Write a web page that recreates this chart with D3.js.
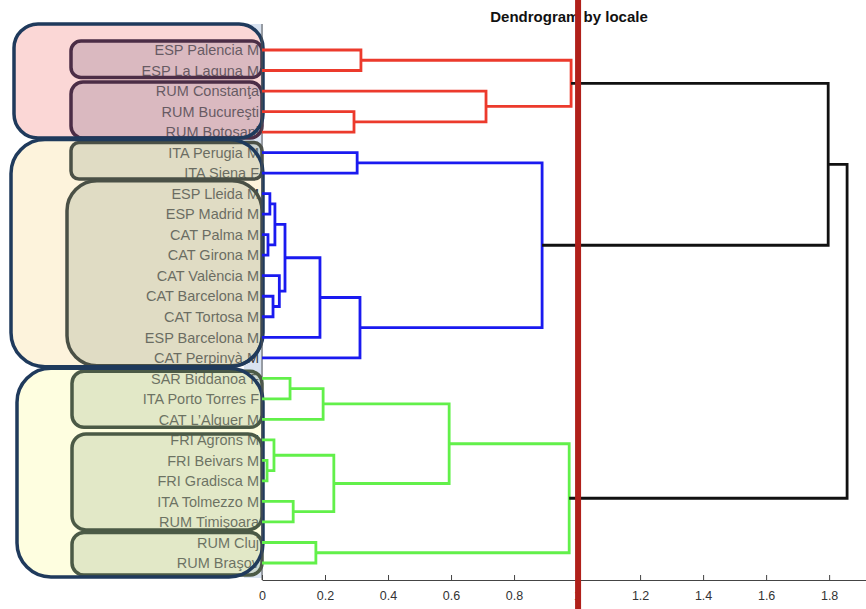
<!DOCTYPE html>
<html>
<head>
<meta charset="utf-8">
<script src="https://cdn.jsdelivr.net/npm/d3@7"></script>
<style>
  html, body { margin: 0; padding: 0; background: #fff; }
  svg { display: block; font-family: "Liberation Sans", Arial, sans-serif; }
</style>
</head>
<body>
<svg id="chart" width="866" height="609"></svg>
<script>
// Leaf labels, top to bottom in dendrogram order
const leaves = [
  "ESP Palencia M", "ESP La Laguna M", "RUM Constanţa", "RUM Bucureşti", "RUM Botoşani",
  "ITA Perugia M", "ITA Siena F", "ESP Lleida M", "ESP Madrid M", "CAT Palma M",
  "CAT Girona M", "CAT València M", "CAT Barcelona M", "CAT Tortosa M", "ESP Barcelona M",
  "CAT Perpinyà M", "SAR Biddanoa F", "ITA Porto Torres F", "CAT L’Alguer M", "FRI Agrons M",
  "FRI Beivars M", "FRI Gradisca M", "ITA Tolmezzo M", "RUM Timişoara", "RUM Cluj", "RUM Braşov"
];

// Linkage: [left node, right node, merge distance]; node ids >= leaves.length refer to earlier rows
const linkLeft  = [0, 3, 2, 26, 5, 7, 9, 31, 12, 11, 33, 36, 37, 30, 16, 40, 20, 19, 22, 43, 41, 24, 46, 29, 49];
const linkRight = [1, 4, 27, 28, 6, 8, 10, 32, 13, 34, 35, 14, 15, 38, 17, 18, 21, 42, 23, 44, 45, 25, 47, 39, 48];
const linkHeight = [0.314, 0.292, 0.711, 0.981, 0.302, 0.025, 0.019, 0.041, 0.035, 0.055, 0.073,
                    0.184, 0.311, 0.889, 0.089, 0.194, 0.016, 0.038, 0.099, 0.228, 0.594, 0.171,
                    0.975, 1.797, 1.857];

// Cut-off distance and the colours of the clusters below it
const cutoff = 1.0;
const clusterColors = ["#ec3a2c", "#1a1af0", "#62f04a"];
const aboveColor = "#111111";

// Axis ticks
const tickValues = [0, 0.2, 0.4, 0.6, 0.8, 1, 1.2, 1.4, 1.6, 1.8];

// Highlight groups of leaves: outer frames and inner frames (first leaf, last leaf)
const outerGroups = [
  { first: "ESP Palencia M", last: "RUM Botoşani", fill: "#fbd7d6" },
  { first: "ITA Perugia M", last: "CAT Perpinyà M", fill: "#fdf3dc" },
  { first: "SAR Biddanoa F", last: "RUM Braşov", fill: "#fefee0" }
];
const innerGroups = [
  { first: "ESP Palencia M", last: "ESP La Laguna M", group: 0 },
  { first: "RUM Constanţa", last: "RUM Botoşani", group: 0 },
  { first: "ITA Perugia M", last: "ITA Siena F", group: 1 },
  { first: "ESP Lleida M", last: "CAT Perpinyà M", group: 1 },
  { first: "SAR Biddanoa F", last: "CAT L’Alguer M", group: 2 },
  { first: "FRI Agrons M", last: "RUM Timişoara", group: 2 },
  { first: "RUM Cluj", last: "RUM Braşov", group: 2 }
];
const innerStyle = [
  { fill: "rgb(171,140,161)", stroke: "#4b2d46" },
  { fill: "rgb(180,185,160)", stroke: "#4a5046" },
  { fill: "rgb(184,199,162)", stroke: "#4b5a46" }
];

const svg = d3.select("#chart");
const W = 866, H = 609;
const margin = { left: 262, top: 50, bottom: 580 };

const x = d3.scaleLinear().domain([0, 1.917]).range([margin.left, W]);
const y = d3.scalePoint().domain(leaves).range([50, 563]);

// Build node positions from the linkage
const n = leaves.length;
const nodes = leaves.map(name => ({ h: 0, y: y(name) }));
linkHeight.forEach((h, i) => {
  const a = nodes[linkLeft[i]], b = nodes[linkRight[i]];
  nodes.push({ h, y: (a.y + b.y) / 2, left: linkLeft[i], right: linkRight[i] });
});

// Colour each link by the cluster it belongs to below the cut-off
const linkColor = new Array(linkHeight.length).fill(aboveColor);
const clusterRoots = [];
function findRoots(id) {
  const node = nodes[id];
  if (id < n) return;
  if (node.h < cutoff) { clusterRoots.push(id); return; }
  findRoots(node.left); findRoots(node.right);
}
findRoots(nodes.length - 1);
clusterRoots.sort((a, b) => nodes[a].y - nodes[b].y);
function paint(id, color) {
  if (id < n) return;
  linkColor[id - n] = color;
  paint(nodes[id].left, color); paint(nodes[id].right, color);
}
clusterRoots.forEach((r, i) => paint(r, clusterColors[i]));

// Light strip behind the label column
svg.append("rect")
  .attr("x", 244).attr("y", 24).attr("width", 19).attr("height", 554)
  .attr("fill", "#d9e3f1");

// Outer frame fills
const outerBox = [
  { x0: 14, pad0: 26, pad1: 6, r: 24 },
  { x0: 11, pad0: 13, pad1: 9, r: 34 },
  { x0: 17, pad0: 10, pad1: 14, r: 34 }
];
const outerG = svg.append("g");
outerGroups.forEach((g, i) => {
  const b = outerBox[i];
  const y0 = y(g.first) - b.pad0, y1 = y(g.last) + b.pad1;
  outerG.append("rect")
    .attr("x", b.x0).attr("y", y0)
    .attr("width", 263 - b.x0).attr("height", y1 - y0)
    .attr("rx", b.r).attr("ry", b.r)
    .attr("fill", g.fill);
});

// Leaf labels
svg.append("g").selectAll("text").data(leaves).join("text")
  .attr("x", 259).attr("y", d => y(d))
  .attr("dy", "0.36em")
  .attr("text-anchor", "end")
  .attr("font-size", 14.5)
  .attr("fill", "#3a3a3a")
  .text(d => d);

// Inner frames (translucent overlay + outline)
const innerBox = [
  { x0: 71, pad0: 9, pad1: 7, r: 10 },
  { x0: 71, pad0: 9, pad1: 6, r: 12 },
  { x0: 71, pad0: 10, pad1: 6, r: 8 },
  { x0: 67, pad0: 13, pad1: 8, r: 30 },
  { x0: 72, pad0: 7, pad1: 8, r: 12 },
  { x0: 72, pad0: 6, pad1: 8, r: 14 },
  { x0: 72, pad0: 10, pad1: 12, r: 12 }
];
const innerG = svg.append("g");
innerGroups.forEach((g, i) => {
  const b = innerBox[i];
  const st = innerStyle[g.group];
  const y0 = y(g.first) - b.pad0, y1 = y(g.last) + b.pad1;
  innerG.append("rect")
    .attr("x", b.x0).attr("y", y0)
    .attr("width", 262 - b.x0).attr("height", y1 - y0)
    .attr("rx", b.r).attr("ry", b.r)
    .attr("fill", st.fill).attr("fill-opacity", 0.4)
    .attr("stroke", st.stroke).attr("stroke-width", 3.5);
});

// Outer frame outlines
const outerLineG = svg.append("g");
outerGroups.forEach((g, i) => {
  const b = outerBox[i];
  const y0 = y(g.first) - b.pad0, y1 = y(g.last) + b.pad1;
  outerLineG.append("rect")
    .attr("x", b.x0).attr("y", y0)
    .attr("width", 263 - b.x0).attr("height", y1 - y0)
    .attr("rx", b.r).attr("ry", b.r)
    .attr("fill", "none")
    .attr("stroke", "#1f3a5c").attr("stroke-width", 3.5);
});

// Axes
svg.append("line")
  .attr("x1", x(0)).attr("x2", x(0))
  .attr("y1", 24).attr("y2", margin.bottom)
  .attr("stroke", "#555").attr("stroke-width", 1);

const xAxis = d3.axisBottom(x)
  .tickValues(tickValues)
  .tickFormat(d3.format("~g"))
  .tickSizeInner(-5).tickSizeOuter(0).tickPadding(11);
const ax = svg.append("g")
  .attr("transform", `translate(0,${margin.bottom})`)
  .call(xAxis);
ax.select(".domain").attr("stroke", "#444");
ax.selectAll(".tick line").attr("stroke", "#444");
ax.selectAll(".tick text")
  .attr("fill", "#333")
  .attr("font-size", 12.5)
  .attr("font-family", "Liberation Sans, Arial, sans-serif");

// Dendrogram links
svg.append("g").selectAll("path")
  .data(linkHeight.map((h, i) => i))
  .join("path")
  .attr("d", i => {
    const node = nodes[n + i];
    const a = nodes[node.left], b = nodes[node.right];
    return `M${x(a.h)},${a.y}H${x(node.h)}V${b.y}H${x(b.h)}`;
  })
  .attr("fill", "none")
  .attr("stroke", i => linkColor[i])
  .attr("stroke-width", 2.8)
  .attr("stroke-linejoin", "miter");

// Title
svg.append("text")
  .attr("x", 569).attr("y", 22)
  .attr("text-anchor", "middle")
  .attr("font-size", 15).attr("font-weight", "bold")
  .attr("fill", "#111")
  .text("Dendrogram by locale");

// Cut-off marker
svg.append("line")
  .attr("x1", x(cutoff) + 1).attr("x2", x(cutoff) + 1)
  .attr("y1", 0).attr("y2", H)
  .attr("stroke", "#b0201a").attr("stroke-width", 6);
</script>
</body>
</html>
